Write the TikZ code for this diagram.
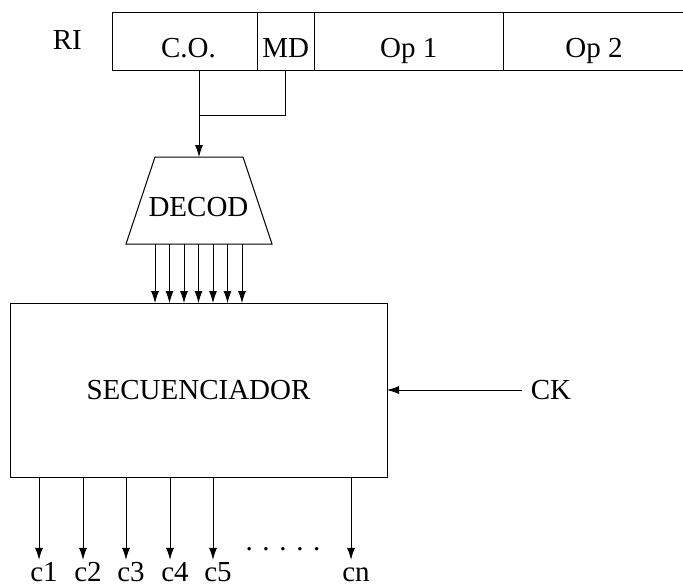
\documentclass[tikz,border=0pt]{standalone}
\usepackage{fontspec}
\setmainfont{Liberation Serif}
\usetikzlibrary{shapes.geometric, arrows.meta, positioning, calc}
\tikzset{
  field/.style={rectangle, draw, line width=1pt, inner sep=0pt, outer sep=0pt,
    minimum height=58pt, text height=32pt, text depth=0pt},
  box/.style={rectangle, draw, line width=1pt, inner sep=0pt, outer sep=0pt},
  outlbl/.style={anchor=base, inner xsep=0pt, inner ysep=1pt, text height=20pt, text depth=0pt},
  arrow/.style={-{Latex[length=12pt,width=8pt]}, line width=0.8pt},
  line/.style={line width=0.8pt}
}

\begin{document}
\begin{tikzpicture}[x=1pt, y=-1pt, font=\fontsize{29}{33}\selectfont]
  \useasboundingbox (0,0) rectangle (683,586);
  % instruction register
  \node[field, minimum width=145pt] (co) at (184.5,42) {\hspace*{8pt}C.O.};
  \node[field, minimum width=57.5pt, right=0pt of co] (md) {MD};
  \node[field, minimum width=188.5pt, right=0pt of md] (op1) {Op 1};
  \node[field, minimum width=182pt, right=0pt of op1] (op2) {Op 2};
  \node[inner sep=0pt, left=30pt of co, yshift=2pt] (ri) {RI};

  % decoder
  \coordinate (join) at (199,115);
  \coordinate (dtop) at (199,157);
  \coordinate (dbot) at (198.5,244);
  \draw[line width=1pt] (155,157) -- (243,157) -- (272,244) -- (126,244) -- cycle;
  \node[inner sep=0pt, text height=30pt, text depth=0pt] (decod) at (198.5,201) {DECOD};

  % sequencer
  \node[box, minimum width=377pt, minimum height=174pt] (seq) at (198.5,390) {SECUENCIADOR};
  \node (ck) at (551,390) {CK};

  \draw[line] (co.south -| join) -- (join);
  \draw[line] (md.south) |- (join);
  \draw[arrow] (join) -- (dtop);
  \foreach \i in {-3,...,3} {
    \coordinate (d\i) at ([xshift=\i*14.5pt]dbot);
    \draw[arrow] (d\i) -- (d\i |- seq.north);
  }
  \draw[arrow] ([xshift=-5pt]ck.west) -- (seq.east);

  % control signals
  \foreach \x/\n in {44/c1, 88/c2, 131/c3, 175/c4, 218/c5, 356/cn} {
    \node[outlbl] (\n) at (\x,581) {\n};
    \coordinate (t\n) at ([xshift=-5pt]\n.north);
    \draw[arrow] (t\n |- seq.south) -- (t\n);
  }
  \node[anchor=base] (dots) at (283,550) {. . . . .};
\end{tikzpicture}
\end{document}
